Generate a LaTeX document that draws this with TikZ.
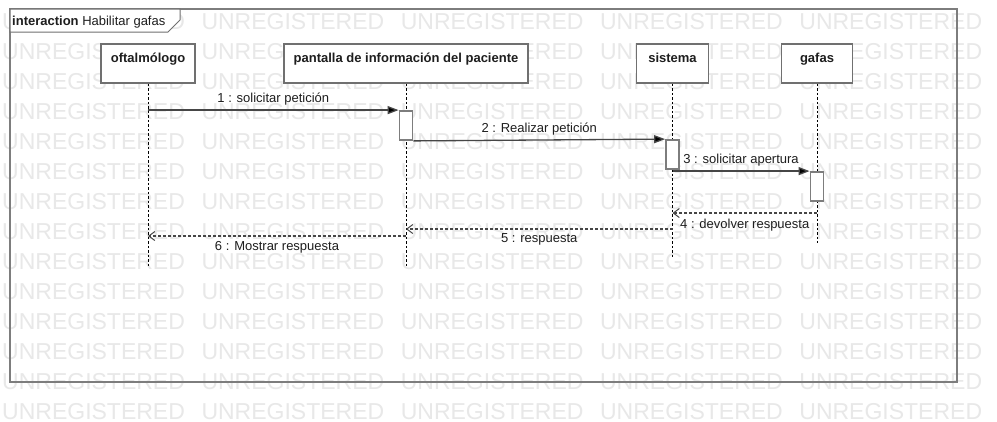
\documentclass[tikz,border=0pt]{standalone}
\usepackage{fontspec}
\setmainfont{Liberation Sans}
\usetikzlibrary{arrows.meta}
\definecolor{wmgray}{RGB}{232,232,232}
\definecolor{framegray}{RGB}{125,125,125}
\definecolor{boxgray}{RGB}{112,112,112}
\definecolor{msggray}{RGB}{70,70,70}
\definecolor{txt}{RGB}{30,30,30}
\tikzset{
  wm/.style={font=\fontsize{23}{25}\selectfont, text=wmgray, inner sep=0, anchor=base west},
  headbox/.style={draw=boxgray, line width=1.8pt, fill=white, inner xsep=0, inner ysep=4pt,
     text height=14pt, text depth=17pt, font=\fontsize{13}{15}\selectfont\bfseries, text=txt},
  actbox/.style={draw=framegray, line width=1.8pt, fill=white, inner sep=0, minimum width=13pt},
  lifeline/.style={black, line width=0.9pt, dash pattern=on 2.5pt off 2pt},
  syncmsg/.style={msggray, line width=1.3pt, -{Triangle[length=11pt,width=8pt,fill=black]}},
  retmsg/.style={msggray, line width=1.2pt, dash pattern=on 3pt off 2pt, -{Straight Barb[length=6pt,width=9pt,line width=1pt]}},
  msglabel/.style={font=\fontsize{13}{15}\selectfont, text=txt, inner sep=0}
}
\begin{document}
\begin{tikzpicture}[x=1pt,y=-1pt]
\useasboundingbox[fill=white] (0,0) rectangle (997,421);
% watermark
\foreach \r in {0,...,13}{
  \foreach \c in {0,...,4}{
    \node[wm] (wm-\r-\c) at ({2+199.3*\c},{29.5+30*\r}) {UNREGISTERED};
  }
}
% frame
\draw[framegray, line width=2pt] (10,9) rectangle (957,382);
\draw[boxgray, line width=1pt, fill=white] (10,9) -- (180,9) -- (180,20) -- (168,32) -- (10,32) -- cycle;
\node[anchor=base west, inner sep=0, font=\fontsize{13}{15}\selectfont, text=txt] (title) at (12,25) {\textbf{interaction} Habilitar gafas};
% heads
\node[headbox, minimum width=94pt, minimum height=39pt] (h1) at (148,63.5) {oftalmólogo};
\node[headbox, minimum width=244pt, minimum height=39pt] (h2) at (406,63.5) {pantalla de información del paciente};
\node[headbox, minimum width=72pt, minimum height=39pt] (h3) at (672.5,63.5) {sistema};
\node[headbox, minimum width=71pt, minimum height=39pt] (h4) at (817,63.5) {gafas};
% lifeline ends
\coordinate (e1) at (148,267);
\coordinate (e2) at (406,267);
\coordinate (e3) at (672.5,258);
\coordinate (e4) at (817,243);
\draw[lifeline] (h1.south) -- (e1);
\draw[lifeline] (h2.south) -- (e2);
\draw[lifeline] (h3.south) -- (e3);
\draw[lifeline] (h4.south) -- (e4);
% activations
\node[actbox, minimum height=29pt] (a1) at (406,125.5) {};
\node[actbox, minimum height=29pt] (a2) at (672.5,154.5) {};
\node[actbox, minimum height=29pt] (a3) at (817,186.5) {};
% return-message points
\coordinate (r4s) at (817,213);
\coordinate (r4e) at (672.5,213);
\coordinate (r5s) at (672.5,229);
\coordinate (r5e) at (406,229);
\coordinate (r6s) at (406,236);
\coordinate (r6e) at (148,236);
% messages
\draw[syncmsg] (a1.north west -| h1.south) -- (a1.north west)
  node[msglabel, midway, yshift=11pt] (l1) {1 : solicitar petición};
\draw[syncmsg] (a1.south east) -- (a2.north west)
  node[msglabel, midway, yshift=11pt] (l2) {2 : Realizar petición};
\draw[syncmsg] (a3.north west -| h3.south) -- (a3.north west)
  node[msglabel, midway, yshift=10.5pt] (l3) {3 : solicitar apertura};
\draw[retmsg] (r4s) -- (r4e)
  node[msglabel, midway, yshift=-12pt] (l4) {4 : devolver respuesta};
\draw[retmsg] (r5s) -- (r5e)
  node[msglabel, midway, yshift=-10.5pt] (l5) {5 : respuesta};
\draw[retmsg] (r6s) -- (r6e)
  node[msglabel, midway, yshift=-11pt] (l6) {6 : Mostrar respuesta};
\end{tikzpicture}
\end{document}
